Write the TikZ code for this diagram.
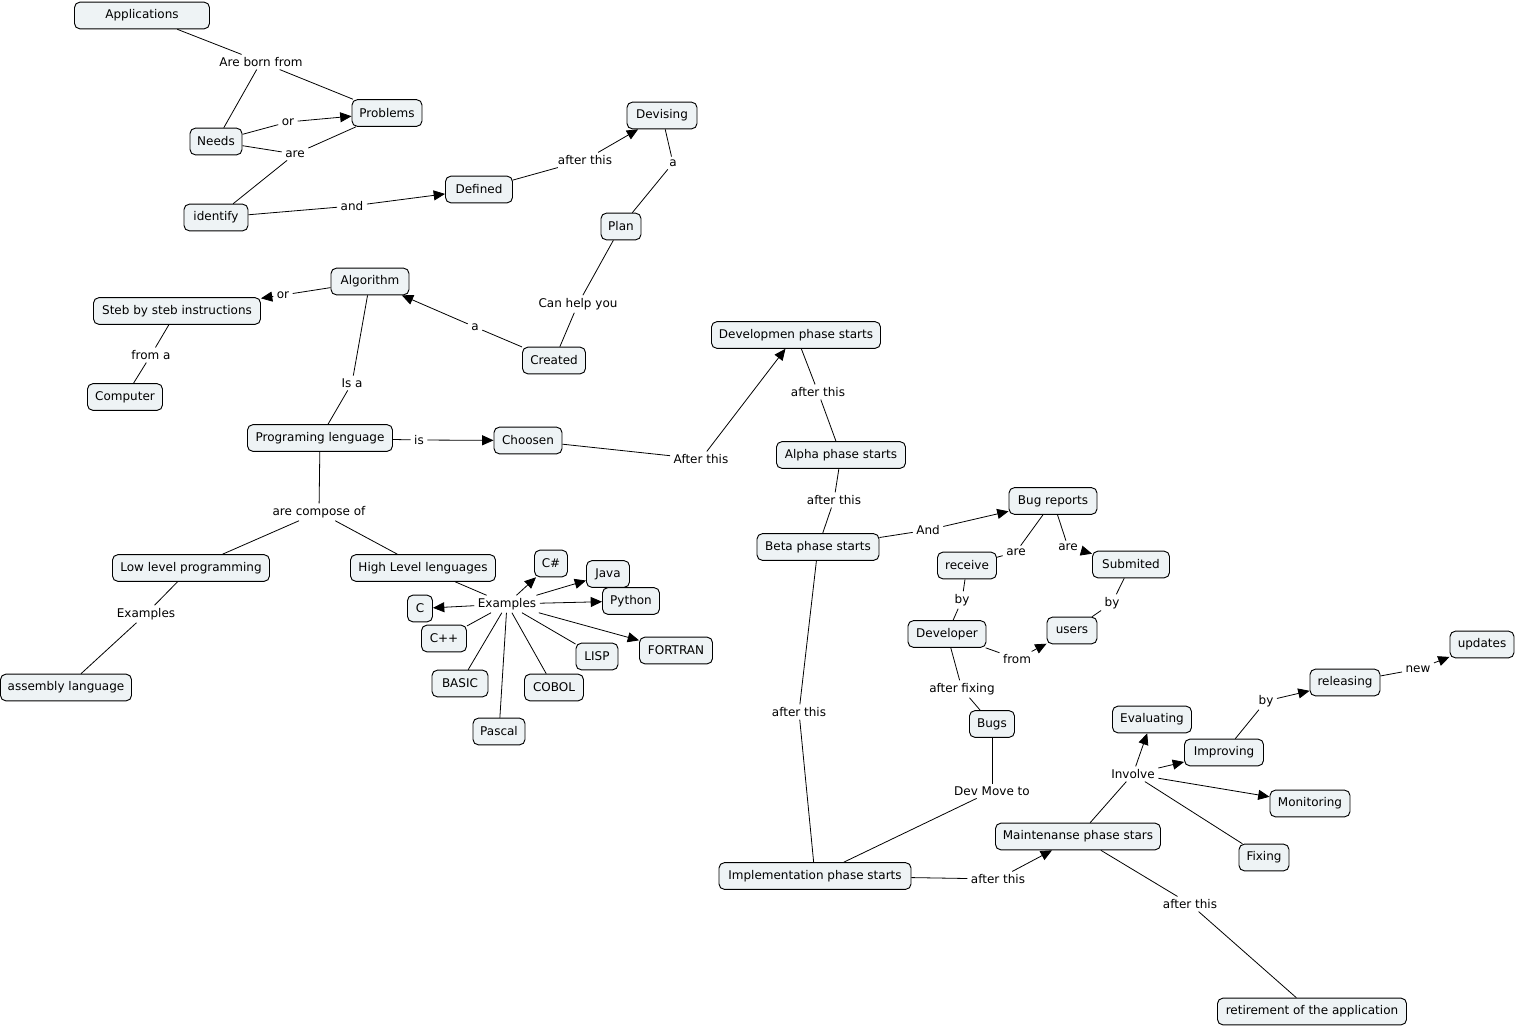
\documentclass[tikz,border=0pt]{standalone}
\usepackage{fontspec}
\setmainfont{DejaVu Sans}
\usetikzlibrary{arrows.meta}
\definecolor{cfill}{RGB}{238,243,245}
\begin{document}
\begin{tikzpicture}[x=0.75pt,y=-0.75pt,
 every node/.style={font=\fontsize{9}{11}\selectfont},
 cpt/.style={draw=black, fill=cfill, rounded corners=4pt, line width=0.7pt, minimum height=20pt, inner xsep=2pt, inner ysep=1pt},
 bw/.style={minimum width=#1*0.75pt},
 lbl/.style={inner xsep=2.5pt, inner ysep=2pt},
 ln/.style={line width=0.6pt},
 ar/.style={line width=0.6pt, -{Triangle[length=8.5pt,width=7.5pt]}}]
\path[fill=white] (0,0) rectangle (1517,1029);
% concepts
\node[cpt,bw=135] (app) at (142,15.5) {Applications};
\node[cpt,bw=70] (prob) at (387,113) {Problems};
\node[cpt,bw=52] (needs) at (216,141.5) {Needs};
\node[cpt,bw=64] (ident) at (216,217.5) {identify};
\node[cpt,bw=67] (def) at (479,189.5) {Defined};
\node[cpt,bw=70] (dev) at (662,115.5) {Devising};
\node[cpt,bw=40] (plan) at (621,226.5) {Plan};
\node[cpt,bw=78] (alg) at (370,281.5) {Algorithm};
\node[cpt,bw=167] (steb) at (177,311) {Steb by steb instructions};
\node[cpt,bw=75] (comp) at (125,397) {Computer};
\node[cpt,bw=63] (created) at (554,360.5) {Created};
\node[cpt,bw=145] (prog) at (320,438) {Programing lenguage};
\node[cpt,bw=68] (choosen) at (528,440.5) {Choosen};
\node[cpt,bw=169] (devph) at (796,335) {Developmen phase starts};
\node[cpt,bw=129] (alpha) at (841,455) {Alpha phase starts};
\node[cpt,bw=122] (beta) at (818,547) {Beta phase starts};
\node[cpt,bw=88] (bug) at (1053,501) {Bug reports};
\node[cpt,bw=59] (recv) at (967,565.5) {receive};
\node[cpt,bw=77] (subm) at (1131,564.5) {Submited};
\node[cpt,bw=78] (developer) at (947,634) {Developer};
\node[cpt,bw=50] (users) at (1072,630.5) {users};
\node[cpt,bw=45] (bugs) at (992,724) {Bugs};
\node[cpt,bw=157] (low) at (191,568) {Low level programming};
\node[cpt,bw=145] (high) at (423,568) {High Level lenguages};
\node[cpt,bw=131] (asm) at (66,687.5) {assembly language};
\node[cpt,bw=33] (cs) at (551,563.5) {C\#};
\node[cpt,bw=43] (java) at (608,574) {Java};
\node[cpt,bw=57] (py) at (631,601) {Python};
\node[cpt,bw=25] (c) at (420,608.5) {C};
\node[cpt,bw=45] (cpp) at (444,638.5) {C++};
\node[cpt,bw=42] (lisp) at (597,656.5) {LISP};
\node[cpt,bw=73] (fort) at (676,650.5) {FORTRAN};
\node[cpt,bw=56] (basic) at (460,683.5) {BASIC};
\node[cpt,bw=59] (cobol) at (554,687.5) {COBOL};
\node[cpt,bw=52] (pascal) at (499,731.5) {Pascal};
\node[cpt,bw=192] (impl) at (815,876) {Implementation phase starts};
\node[cpt,bw=165] (maint) at (1078,836.5) {Maintenanse phase stars};
\node[cpt,bw=79] (eval) at (1152,719.5) {Evaluating};
\node[cpt,bw=79] (impr) at (1224,752.5) {Improving};
\node[cpt,bw=80] (mon) at (1310,803.5) {Monitoring};
\node[cpt,bw=50] (fix) at (1264,857.5) {Fixing};
\node[cpt,bw=70] (rel) at (1345,682.5) {releasing};
\node[cpt,bw=64] (upd) at (1482,644.5) {updates};
\node[cpt,bw=189] (ret) at (1312,1011.5) {retirement of the application};
% linking phrases
\node[lbl] (l1) at (261,62) {Are born from};
\node[lbl] (l2) at (288,122) {or};
\node[lbl] (l3) at (295,154) {are};
\node[lbl] (l4) at (352,206) {and};
\node[lbl] (l5) at (585,160) {after this};
\node[lbl] (l6) at (673,163) {a};
\node[lbl] (l7) at (578,304) {Can help you};
\node[lbl] (l8) at (475,327) {a};
\node[lbl] (l9) at (283,295) {or};
\node[lbl] (l10) at (151,355) {from a};
\node[lbl] (l11) at (352,383) {Is a};
\node[lbl] (l12) at (419,440) {is};
\node[lbl] (l13) at (319,512) {are compose of};
\node[lbl] (l14) at (146,614) {Examples};
\node[lbl] (l15) at (507,604) {Examples};
\node[lbl] (l16) at (701,459) {After this};
\node[lbl] (l17) at (818,392) {after this};
\node[lbl] (l18) at (834,500) {after this};
\node[lbl] (l19) at (928,530) {And};
\node[lbl] (l20) at (1016,552) {are};
\node[lbl] (l21) at (1068,547) {are};
\node[lbl] (l22) at (962,600) {by};
\node[lbl] (l23) at (1112,603) {by};
\node[lbl] (l24) at (1017,659) {from};
\node[lbl] (l25) at (962,689) {after fixing};
\node[lbl] (l26) at (799,712) {after this};
\node[lbl] (l27) at (992,791) {Dev Move to};
\node[lbl] (l28) at (998,879) {after this};
\node[lbl] (l29) at (1133,774) {Involve};
\node[lbl] (l30) at (1266,701) {by};
\node[lbl] (l31) at (1418,669) {new};
\node[lbl] (l32) at (1190,904) {after this};
% connectors
\draw[ln] (app) -- (l1); \draw[ln] (l1) -- (needs); \draw[ln] (l1) -- (prob);
\draw[ln] (needs) -- (l2); \draw[ar] (l2) -- (prob);
\draw[ln] (needs) -- (l3); \draw[ln] (l3) -- (prob); \draw[ln] (l3) -- (ident);
\draw[ln] (ident) -- (l4); \draw[ar] (l4) -- (def);
\draw[ln] (def) -- (l5); \draw[ar] (l5) -- (dev);
\draw[ln] (dev) -- (l6); \draw[ln] (l6) -- (plan);
\draw[ln] (plan) -- (l7); \draw[ln] (l7) -- (created);
\draw[ln] (created) -- (l8); \draw[ar] (l8) -- (alg);
\draw[ln] (alg) -- (l9); \draw[ar] (l9) -- (steb);
\draw[ln] (steb) -- (l10); \draw[ln] (l10) -- (comp);
\draw[ln] (alg) -- (l11); \draw[ln] (l11) -- (prog);
\draw[ln] (prog) -- (l12); \draw[ar] (l12) -- (choosen);
\draw[ln] (prog) -- (l13); \draw[ln] (l13) -- (low); \draw[ln] (l13) -- (high);
\draw[ln] (low) -- (l14); \draw[ln] (l14) -- (asm);
\draw[ln] (high) -- (l15);
\draw[ar] (l15) -- (cs); \draw[ar] (l15) -- (java); \draw[ar] (l15) -- (py);
\draw[ar] (l15) -- (c); \draw[ar] (l15) -- (fort);
\draw[ln] (l15) -- (cpp); \draw[ln] (l15) -- (lisp); \draw[ln] (l15) -- (basic);
\draw[ln] (l15) -- (cobol); \draw[ln] (l15) -- (pascal);
\draw[ln] (choosen) -- (l16); \draw[ar] (l16) -- (devph);
\draw[ln] (devph) -- (l17); \draw[ln] (l17) -- (alpha);
\draw[ln] (alpha) -- (l18); \draw[ln] (l18) -- (beta);
\draw[ln] (beta) -- (l19); \draw[ar] (l19) -- (bug);
\draw[ln] (bug) -- (l20); \draw[ln] (l20) -- (recv);
\draw[ln] (bug) -- (l21); \draw[ar] (l21) -- (subm);
\draw[ln] (recv) -- (l22); \draw[ln] (l22) -- (developer);
\draw[ln] (subm) -- (l23); \draw[ln] (l23) -- (users);
\draw[ln] (developer) -- (l24); \draw[ar] (l24) -- (users);
\draw[ln] (developer) -- (l25); \draw[ln] (l25) -- (bugs);
\draw[ln] (beta) -- (l26); \draw[ln] (l26) -- (impl);
\draw[ln] (bugs) -- (l27); \draw[ln] (l27) -- (impl);
\draw[ln] (impl) -- (l28); \draw[ar] (l28) -- (maint);
\draw[ln] (maint) -- (l29);
\draw[ar] (l29) -- (eval); \draw[ar] (l29) -- (impr); \draw[ar] (l29) -- (mon);
\draw[ln] (l29) -- (fix);
\draw[ln] (impr) -- (l30); \draw[ar] (l30) -- (rel);
\draw[ln] (rel) -- (l31); \draw[ar] (l31) -- (upd);
\draw[ln] (maint) -- (l32); \draw[ln] (l32) -- (ret);
\end{tikzpicture}
\end{document}
